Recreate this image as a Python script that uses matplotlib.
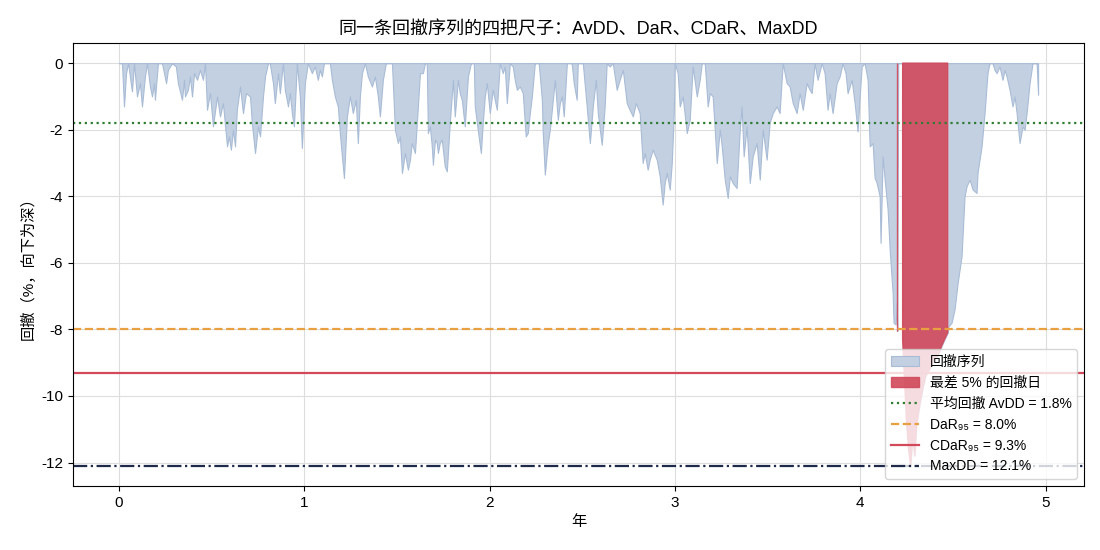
import matplotlib
matplotlib.use("Agg")
import matplotlib.pyplot as plt
import numpy as np

plt.rcParams['font.family'] = ['Liberation Sans', 'Noto Sans CJK SC', 'DejaVu Sans']
plt.rcParams['axes.unicode_minus'] = False

# drawdown series: time in years, drawdown in %
years = [
    0.000, 0.016, 0.027, 0.038, 0.049, 0.070, 0.081, 0.097, 0.113, 0.124,
    0.140, 0.151, 0.167, 0.178, 0.189, 0.194, 0.210, 0.232, 0.254, 0.264,
    0.286, 0.307, 0.318, 0.340, 0.351, 0.356, 0.372, 0.383, 0.394, 0.405,
    0.421, 0.437, 0.453, 0.464, 0.475, 0.491, 0.507, 0.529, 0.545, 0.561,
    0.583, 0.593, 0.604, 0.615, 0.626, 0.636, 0.653, 0.669, 0.685, 0.707,
    0.717, 0.734, 0.750, 0.761, 0.777, 0.788,
    0.804, 0.814, 0.831, 0.841, 0.858, 0.868, 0.885, 0.895, 0.912, 0.922,
    0.933, 0.944, 0.960, 0.976, 0.987, 1.003, 1.019, 1.041, 1.057, 1.073,
    1.084, 1.095, 1.106, 1.138, 1.149, 1.165, 1.181, 1.192, 1.203, 1.214,
    1.230, 1.246, 1.262, 1.278, 1.289, 1.300, 1.311, 1.327, 1.343, 1.365,
    1.381, 1.397, 1.408, 1.424, 1.440, 1.473, 1.489, 1.505, 1.516, 1.527,
    1.543, 1.559, 1.570, 1.580, 1.597, 1.613, 1.624,
    1.640, 1.651, 1.661, 1.667, 1.678, 1.688, 1.694, 1.705, 1.715, 1.721,
    1.731, 1.742, 1.758, 1.769, 1.785, 1.802, 1.812, 1.829, 1.839, 1.850,
    1.866, 1.883, 1.899, 1.915, 1.920, 1.936, 1.953, 1.963, 1.974, 1.985,
    2.001, 2.017, 2.039, 2.055, 2.071, 2.082, 2.093, 2.109, 2.125, 2.136,
    2.147, 2.163, 2.179, 2.195, 2.206, 2.217, 2.228, 2.244, 2.265, 2.282,
    2.287, 2.298, 2.314, 2.325, 2.336, 2.352, 2.368, 2.379, 2.390, 2.400,
    2.417, 2.443, 2.454, 2.470, 2.476,
    2.503, 2.524, 2.541, 2.557, 2.573, 2.584, 2.595, 2.605, 2.621, 2.632,
    2.648, 2.665, 2.686, 2.702, 2.719, 2.740, 2.756, 2.773, 2.789, 2.810,
    2.826, 2.837, 2.853, 2.864, 2.880, 2.902, 2.918, 2.934, 2.945, 2.956,
    2.972, 2.983, 2.994, 2.999, 3.015, 3.026, 3.042, 3.064, 3.080, 3.096,
    3.118, 3.134, 3.145, 3.161, 3.177, 3.188, 3.204, 3.226, 3.242, 3.253,
    3.269, 3.285, 3.296,
    3.312, 3.333, 3.350, 3.360, 3.371, 3.387, 3.404, 3.420, 3.441, 3.458,
    3.474, 3.495, 3.511, 3.528, 3.549, 3.565, 3.576, 3.582, 3.603, 3.619,
    3.636, 3.657, 3.673, 3.690, 3.711, 3.727, 3.738, 3.754, 3.770, 3.792,
    3.808, 3.824, 3.835, 3.851, 3.873, 3.889, 3.905, 3.921, 3.932, 3.954,
    3.970, 3.986, 3.997, 4.008, 4.024, 4.040, 4.051, 4.067, 4.078, 4.089,
    4.105, 4.110, 4.121, 4.132, 4.148, 4.159, 4.175, 4.180, 4.191, 4.197,
    4.200, 4.205, 4.226, 4.229, 4.240, 4.250, 4.261, 4.272, 4.283, 4.294,
    4.304, 4.320, 4.337, 4.353, 4.375, 4.396, 4.418, 4.439, 4.455, 4.472,
    4.477, 4.493, 4.509, 4.526, 4.547, 4.563, 4.574, 4.590, 4.607, 4.628,
    4.633, 4.655, 4.671, 4.687, 4.698, 4.714, 4.725, 4.736, 4.752, 4.768,
    4.779, 4.790, 4.806, 4.822, 4.833, 4.844, 4.860, 4.876, 4.887, 4.898,
    4.914, 4.930, 4.952, 4.960,
]
drawdown = [
    0, 0, -1.3, -0.3, 0, -0.85, 0, -1.0, -0.6, -1.3,
    -0.4, 0, -0.7, -1.0, -0.6, -1.1, 0, 0, -0.6, -0.2,
    0, -0.1, -0.6, -1.1, -0.5, -1.0, -0.8, -0.4, -1.0, -0.3,
    -0.5, -0.2, -0.5, 0, -1.4, -0.9, -1.9, -1.0, -1.6, -1.2,
    -2.5, -2.2, -2.6, -2.0, -2.5, -1.4, -0.7, -1.5, -0.9, -1.0,
    -1.8, -2.7, -1.9, -2.2, -1.0, -0.4,
    0, 0, -0.6, -1.2, -0.3, -0.9, 0, -0.8, -1.3, -0.9,
    -1.5, -1.9, 0, -1.0, -2.55, -0.6, 0, -0.3, -0.1, -0.5,
    -0.2, -0.4, 0, 0, -0.5, -1.0, -1.3, -2.1, -2.8, -3.45,
    -1.6, -1.0, -1.5, -1.1, -2.4, -1.0, -0.3, 0, -0.4, -0.7,
    -0.4, -1.0, -1.6, -0.5, 0, 0, -2.0, -2.4, -2.2, -3.3,
    -2.7, -3.2, -2.9, -2.4, -2.7, -1.3, -0.3,
    -0.3, 0, 0, -2.1, -1.9, -2.5, -3.05, -2.3, -2.4, -2.7,
    -2.4, -2.3, -3.1, -3.25, -1.8, -0.5, -1.6, -0.5, -0.9, -1.1,
    -1.9, -0.4, 0, 0, -1.3, -2.0, -2.7, -1.8, -1.0, -0.6,
    -1.5, -0.8, -1.4, 0, -0.3, -0.1, -1.2, 0, -0.1, -0.5,
    -0.8, -0.7, -0.9, -2.2, -2.1, -1.5, -1.0, 0, 0, -1.1,
    -2.1, -3.35, -2.4, -2.0, -1.4, -0.5, -1.7, -1.2, -1.0, -1.6,
    0, 0, -0.6, -1.1, 0,
    0, -1.3, -2.4, -1.3, -0.5, -1.5, -2.0, -2.45, -1.3, 0,
    -0.1, 0, -0.8, -0.5, -0.2, -1.2, -1.4, -1.6, -1.2, -1.5,
    -3.0, -2.7, -3.2, -2.9, -2.6, -2.9, -3.4, -4.25, -3.6, -3.3,
    -3.8, -3.0, -1.5, 0, -0.3, -1.3, -1.0, -2.1, -1.7, -0.1,
    -1.0, -0.5, 0, 0, -1.3, -0.9, -1.0, -3.0, -2.0, -2.5,
    -3.5, -4.05, -3.4,
    -3.6, -3.75, -2.0, -1.3, -2.8, -1.9, -3.6, -2.8, -2.4, -3.5,
    -2.0, -2.9, -1.8, -1.5, -1.3, -1.5, -0.5, 0, -0.6, -0.7,
    -1.2, -1.5, -0.9, -1.4, -0.6, -0.8, -0.9, 0, -0.5, 0,
    -0.3, -1.4, -0.9, -1.5, -0.6, -0.4, 0, -0.3, -0.9, -0.5,
    -1.2, -2.05, -1.0, -0.1, 0, -0.5, -2.5, -2.4, -3.45, -3.6,
    -4.0, -5.4, -2.8, -3.5, -4.4, -5.6, -6.9, -7.8, -7.85, -7.2,
    -8.05, 0, 0, -8.3, -9.6, -10.8, -11.6, -12.1, -11.2, -11.8,
    -10.9, -10.3, -9.8, -9.4, -9.2, -8.9, -8.8, -8.5, -8.3, -8.1,
    -7.9, -7.8, -7.4, -6.6, -5.8, -4.0, -3.7, -3.5, -3.8, -3.9,
    -3.3, -2.5, -1.5, -0.3, 0, 0, -0.2, -0.3, -0.1, -0.5,
    -0.2, -0.4, -0.8, -1.3, -1.0, -1.5, -2.4, -1.9, -2.0, -1.5,
    -0.6, 0, 0, -0.95,
]

avdd = 1.8
dar95 = 8.0
cdar95 = 9.3
maxdd = 12.1

t = np.array(years)
dd = np.array(drawdown)
worst = dd <= -dar95

fig, ax = plt.subplots(figsize=(11, 5.5), dpi=100)
fig.subplots_adjust(left=0.0664, right=0.9855, top=0.9218, bottom=0.1164)

ax.fill_between(t, dd, 0, color='#c3d0e2', edgecolor='#a9bcd6', linewidth=0.8,
                label='回撤序列')
ax.fill_between(t, dd, 0, where=worst, color='#d1495b', alpha=0.9,
                linewidth=1.0, label='最差 5% 的回撤日')

ax.axhline(-avdd, color='#2e7d32', linestyle=':', linewidth=1.6,
           label=f'平均回撤 AvDD = {avdd:.1f}%')
ax.axhline(-dar95, color='#e8a040', linestyle='--', linewidth=1.6,
           label=f'DaR₉₅ = {dar95:.1f}%')
ax.axhline(-cdar95, color='#d1495b', linestyle='-', linewidth=1.6,
           label=f'CDaR₉₅ = {cdar95:.1f}%')
ax.axhline(-maxdd, color='#1f2a4a', linestyle='-.', linewidth=1.6,
           label=f'MaxDD = {maxdd:.1f}%')

ax.grid(True, color='#dddddd', linewidth=0.8)
ax.set_axisbelow(True)
ax.set_xlabel('年', fontsize=11)
ax.set_ylabel('回撤（%，向下为深）', fontsize=11)
ax.set_title('同一条回撤序列的四把尺子：AvDD、DaR、CDaR、MaxDD', fontsize=13)
ax.tick_params(labelsize=11)
ax.legend(loc='lower right', fontsize=10)

fig.savefig('out.png', dpi=100)
